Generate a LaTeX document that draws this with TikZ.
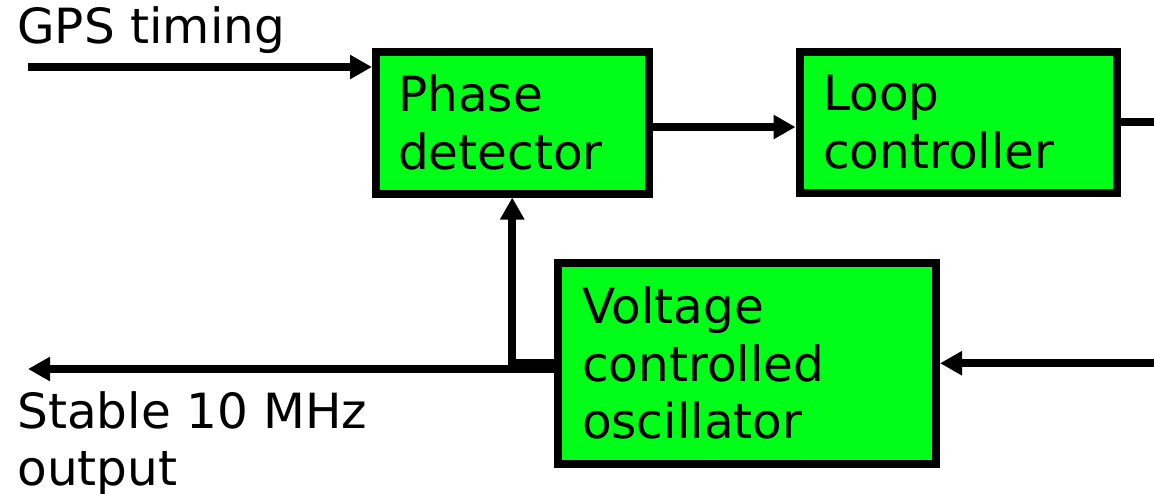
\documentclass[tikz,border=0pt]{standalone}
\usepackage{fontspec}
\setmainfont{DejaVu Sans}
\usetikzlibrary{arrows.meta, positioning, calc}
\usepackage{xcolor}
\definecolor{loopGreen}{RGB}{0,255,24}
\tikzset{
    font=\fontsize{24.25}{28.75}\selectfont,
    >={Triangle[length=11pt, width=11.5pt]},
    % Shapes
    blk/.style={rectangle, draw=black, fill=loopGreen, line width=4pt,
                align=left, inner xsep=11pt, inner ysep=0pt},
    % Flow & Labels
    wire/.style={line width=4pt, black},
    flow/.style={->, wire},
    lbl/.style={inner sep=0pt, align=left}
}

\begin{document}
\begin{tikzpicture}[x=0.5pt, y=-0.5pt]
\useasboundingbox (0,0) rectangle (1154,493);

\node[blk, minimum width=136.25pt, minimum height=71pt, text width=114.25pt] (pd) at (512.25,122.5) {Phase\\detector};
\node[blk, minimum width=158.75pt, minimum height=70.5pt, text width=135pt] (lc) at (958.25,122) {Loop\\controller};
\node[blk, minimum width=189pt, minimum height=100.25pt, text width=165pt] (vco) at (747,363.25) {Voltage\\controlled\\oscillator};

\node[lbl, anchor=base west] (gps) at (17,43) {GPS timing};
\node[lbl, anchor=north west] (outlbl) at (17,391) {Stable 10 MHz\\output};

\coordinate (gpsin) at (28,67);
\coordinate (lcout) at (1154,122);
\coordinate (vcoin) at (1154,363.25);
\coordinate (out) at (28,369);

\draw[flow] (gpsin) -- (gpsin -| pd.west);
\draw[flow] ([yshift=-2.25pt]pd.east) -- ([yshift=-2.25pt]pd.east -| lc.west);
\draw[wire] (lc.east) -- (lcout);
\draw[flow] (vcoin) -- (vco.east);
\draw[flow] (vco.west) -| (pd.south);
\draw[flow] (vco.west |- out) -- (out);

\end{tikzpicture}
\end{document}
